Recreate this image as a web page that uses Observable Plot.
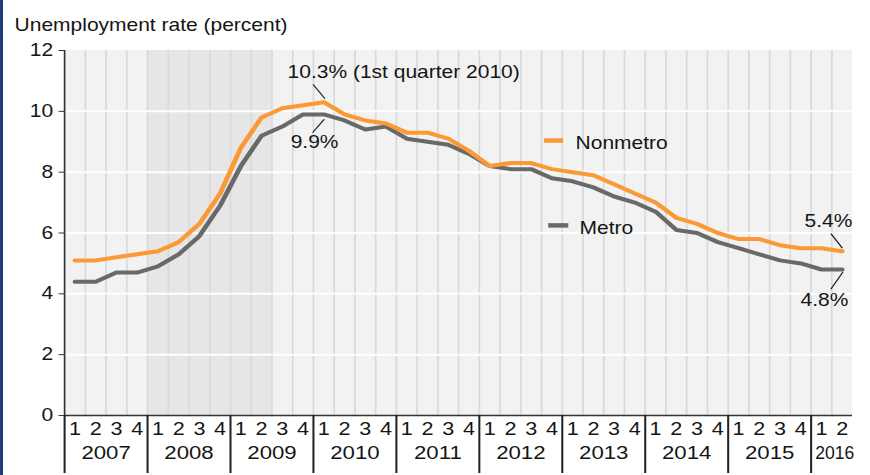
<!DOCTYPE html>
<html>
<head>
<meta charset="utf-8">
<script src="https://cdn.jsdelivr.net/npm/d3@7"></script>
<script src="https://cdn.jsdelivr.net/npm/@observablehq/plot@0.6"></script>
<style>
  html, body { margin: 0; padding: 0; background: #ffffff; }
  #wrap { position: relative; width: 870px; height: 475px; overflow: hidden; }
  #stripe { position: absolute; left: 0; top: 0; width: 3px; height: 475px; background: #1e3e7b; }
</style>
</head>
<body>
<div id="wrap"><div id="stripe"></div></div>
<script>
// ---------- data ----------
const titleText = "Unemployment rate (percent)";
const quarters = [
  "2007 Q1","2007 Q2","2007 Q3","2007 Q4",
  "2008 Q1","2008 Q2","2008 Q3","2008 Q4",
  "2009 Q1","2009 Q2","2009 Q3","2009 Q4",
  "2010 Q1","2010 Q2","2010 Q3","2010 Q4",
  "2011 Q1","2011 Q2","2011 Q3","2011 Q4",
  "2012 Q1","2012 Q2","2012 Q3","2012 Q4",
  "2013 Q1","2013 Q2","2013 Q3","2013 Q4",
  "2014 Q1","2014 Q2","2014 Q3","2014 Q4",
  "2015 Q1","2015 Q2","2015 Q3","2015 Q4",
  "2016 Q1","2016 Q2"
];
const years = ["2007","2008","2009","2010","2011","2012","2013","2014","2015","2016"];
const metro = [4.4,4.4,4.7,4.7, 4.9,5.3,5.9,6.9, 8.2,9.2,9.5,9.9, 9.9,9.7,9.4,9.5,
               9.1,9.0,8.9,8.6, 8.2,8.1,8.1,7.8, 7.7,7.5,7.2,7.0, 6.7,6.1,6.0,5.7,
               5.5,5.3,5.1,5.0, 4.8,4.8];
const nonmetro = [5.1,5.1,5.2,5.3, 5.4,5.7,6.3,7.3, 8.8,9.8,10.1,10.2, 10.3,9.9,9.7,9.6,
                  9.3,9.3,9.1,8.7, 8.2,8.3,8.3,8.1, 8.0,7.9,7.6,7.3, 7.0,6.5,6.3,6.0,
                  5.8,5.8,5.6,5.5, 5.5,5.4];
const recession = {start: "2008 Q1", end: "2009 Q2"};
const yTicks = [0, 2, 4, 6, 8, 10, 12];
const yGrid = [2, 4, 6, 8, 10];
const seriesNames = ["Nonmetro", "Metro"];
const annotationLabels = ["10.3% (1st quarter 2010)", "9.9%", "5.4%", "4.8%"];
const annotationPoints = [
  {series: "Nonmetro", quarter: "2010 Q1"},
  {series: "Metro", quarter: "2010 Q1"},
  {series: "Nonmetro", quarter: "2016 Q2"},
  {series: "Metro", quarter: "2016 Q2"}
];

// ---------- derived tables ----------
const idx = q => quarters.indexOf(q);
const rows = [];
quarters.forEach((q, i) => {
  rows.push({series: "Metro", i, value: metro[i]});
  rows.push({series: "Nonmetro", i, value: nonmetro[i]});
});
const seriesValue = {Metro: metro, Nonmetro: nonmetro};
const qLabels = quarters.map((q, i) => ({i, label: q.slice(-1)}));
const yearLabels = years.map(y => {
  const is = quarters.map((q, i) => q.startsWith(y) ? i : -1).filter(i => i >= 0);
  return {year: y, center: (is[0] + is[is.length - 1] + 1) / 2, partial: is.length < 4};
});
const yearBounds = quarters.map((q, i) => q.endsWith("Q1") ? i : -1).filter(i => i >= 0);
const quarterBounds = quarters.map((q, i) => i).filter(i => i > 0);

// ---------- layout / style ----------
const W = 870, H = 475, S = 1.2;           // S: horizontal stretch of the picture
const W0 = W / S;
const mTop = 50, mBottom = 60;
const pxPerUnitY = (H - mTop - mBottom) / 12;
const sepLen = 58;                          // length of the year separators below the axis (px)
const colors = {Nonmetro: "#fb9a35", Metro: "#696969"};
const font = "Liberation Sans, Arial, Helvetica, sans-serif";
const txt = "#151515";
const fs = 17.5;

// offsets in final pixels, relative to the annotated point
const annoLayout = [
  {tdx: -36.2, tdy: -30, anchor: "start", s: [0.8, -4], e: [-10.5, -17.4]},
  {tdx: -9.2, tdy: 28, anchor: "middle", s: [0.1, 5.2], e: [-10.9, 17.9]},
  {tdx: -13.8, tdy: -29.5, anchor: "middle", s: [-0.1, -3.4], e: [-11.1, -17.4]},
  {tdx: -17.8, tdy: 31, anchor: "middle", s: [0.5, 2.7], e: [-11.1, 19.3]}
];
const legendLayout = {
  Nonmetro: {x1: 23.14, x2: 24.07, y: 9.04, tx: 24.64, ty: 8.94},
  Metro: {x1: 23.35, x2: 24.32, y: 6.25, tx: 24.83, ty: 6.16}
};
const leaderShape = {draw(context, l) { context.moveTo(0, 0); context.lineTo(0, -l); }};

const annoMarks = [];
annotationPoints.forEach((p, k) => {
  const L = annoLayout[k];
  const vx = (L.e[0] - L.s[0]) / S, vy = L.e[1] - L.s[1];
  const len = Math.hypot(vx, vy);
  const rot = Math.atan2(vx, -vy) * 180 / Math.PI;
  const d = [{x: idx(p.quarter) + 0.5, y: seriesValue[p.series][idx(p.quarter)], label: annotationLabels[k]}];
  annoMarks.push(Plot.vector(d, {x: "x", y: "y", length: len, rotate: rot, anchor: "start",
    shape: leaderShape, stroke: "#222", strokeWidth: 1.1, dx: L.s[0] / S, dy: L.s[1]}));
  annoMarks.push(Plot.text(d, {x: "x", y: "y", text: "label", textAnchor: L.anchor,
    dx: L.tdx / S, dy: L.tdy, fontSize: fs, fill: txt}));
});

const legendMarks = [];
seriesNames.forEach(s => {
  const L = legendLayout[s];
  legendMarks.push(Plot.ruleY([s], {y: () => L.y, x1: () => L.x1, x2: () => L.x2,
    stroke: colors[s], strokeWidth: 4.5}));
  legendMarks.push(Plot.text([s], {x: () => L.tx, y: () => L.ty, text: d => d,
    textAnchor: "start", fontSize: fs, fill: txt}));
});

const chart = Plot.plot({
  width: W0, height: H,
  marginLeft: 64 / S, marginRight: (W - 852) / S, marginTop: mTop, marginBottom: mBottom,
  x: {domain: [0, quarters.length], axis: null},
  y: {domain: [0, 12], axis: null},
  style: {fontFamily: font, fontSize: fs + "px", color: txt, background: "transparent"},
  marks: [
    Plot.rect([0], {x1: 0, x2: quarters.length, y1: 0, y2: 12, fill: "#f2f2f2"}),
    Plot.rect([recession], {x1: d => idx(d.start), x2: d => idx(d.end) + 1, y1: 0, y2: 12, fill: "#e6e6e6"}),
    Plot.ruleX(quarterBounds, {stroke: "#d9d9d9", strokeWidth: 1.4}),
    Plot.ruleY(yGrid, {stroke: "#ffffff", strokeWidth: 2}),
    Plot.line(rows.filter(r => r.series === "Metro"), {x: d => d.i + 0.5, y: "value",
      stroke: colors.Metro, strokeWidth: 4, strokeLinejoin: "round"}),
    Plot.line(rows.filter(r => r.series === "Nonmetro"), {x: d => d.i + 0.5, y: "value",
      stroke: colors.Nonmetro, strokeWidth: 4, strokeLinejoin: "round"}),
    Plot.ruleY([0], {stroke: "#333", strokeWidth: 1.5}),
    Plot.ruleX([0], {y1: 0, y2: 12, stroke: "#333", strokeWidth: 1.4}),
    Plot.ruleX(yearBounds, {y1: 0, y2: -sepLen / pxPerUnitY, stroke: "#222", strokeWidth: 1.7}),
    Plot.axisY({ticks: yTicks, tickSize: 4.5, tickPadding: 5, stroke: "#333", fontSize: fs, fill: txt, label: null}),
    Plot.text(qLabels, {x: d => d.i + 0.5, text: "label", frameAnchor: "bottom", dy: 19, fontSize: 18, fill: txt}),
    Plot.text(yearLabels.filter(d => !d.partial), {x: "center", text: "year", frameAnchor: "bottom", dy: 43, fontSize: 18.5, fill: txt}),
    Plot.text(yearLabels.filter(d => d.partial), {x: "center", text: "year", frameAnchor: "bottom", dy: 43,
      dx: 2.8 / S, fontSize: 18.5, fill: txt}),
    Plot.text([titleText], {frameAnchor: "top-left", text: d => d, textAnchor: "start",
      dx: (14 - 64) / S, dy: -31.5, fontSize: fs, fill: txt}),
    ...legendMarks,
    ...annoMarks
  ]
});

// the partial-year label (2016) is narrowed slightly to fit its two quarters, as in the original
chart.querySelectorAll("text").forEach(el => {
  if (yearLabels.some(d => d.partial && d.year === el.textContent)) {
    el.setAttribute("textLength", 39 / S);
    el.setAttribute("lengthAdjust", "spacingAndGlyphs");
  }
});

chart.setAttribute("width", W);
chart.setAttribute("height", H);
chart.setAttribute("preserveAspectRatio", "none");
chart.style.width = W + "px";
chart.style.height = H + "px";
chart.style.maxWidth = "none";
chart.style.display = "block";
document.getElementById("wrap").insertBefore(chart, document.getElementById("stripe"));
</script>
</body>
</html>
